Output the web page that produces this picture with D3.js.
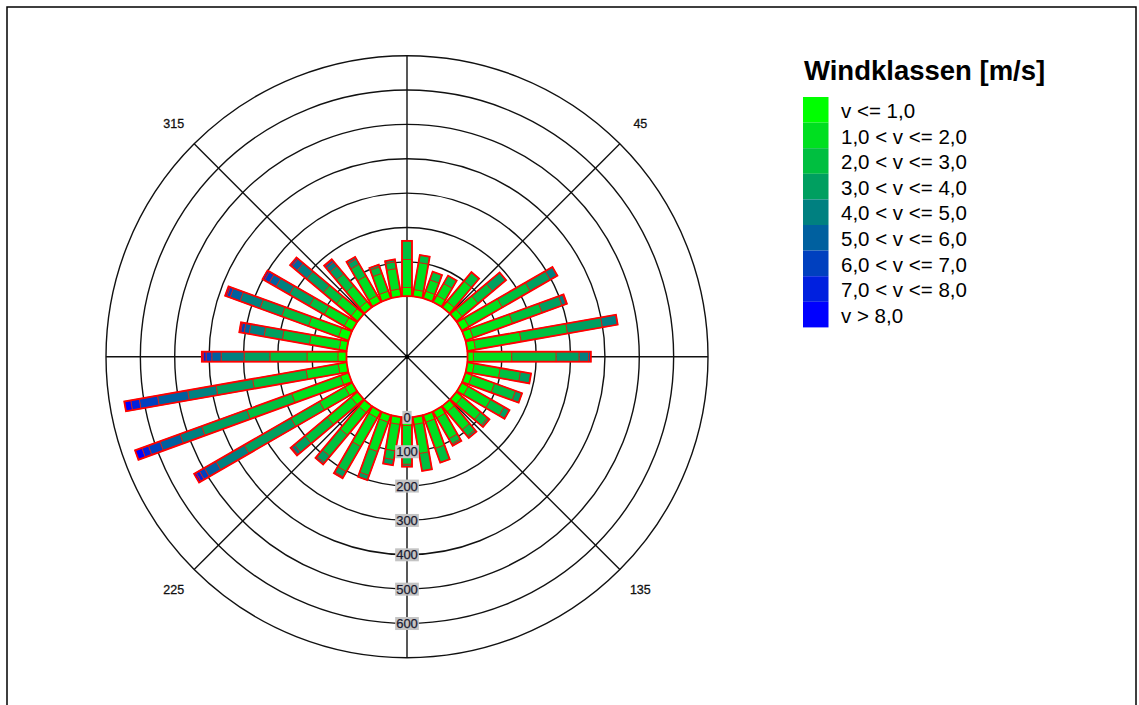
<!DOCTYPE html>
<html>
<head>
<meta charset="utf-8">
<title>Windrose</title>
<script src="https://cdn.jsdelivr.net/npm/d3@7/dist/d3.min.js"></script>
<style>
  body { margin: 0; background: #fff; }
  text { font-family: Arial, "Liberation Sans", sans-serif; }
</style>
</head>
<body>
<div id="chart"></div>
<script>
// directions in degrees, clockwise from north
const directions = d3.range(0, 360, 10);

const classLabels = ["v <= 1,0", "1,0 < v <= 2,0", "2,0 < v <= 3,0", "3,0 < v <= 4,0",
  "4,0 < v <= 5,0", "5,0 < v <= 6,0", "6,0 < v <= 7,0", "7,0 < v <= 8,0", "v > 8,0"];

// counts per wind class, one value per direction (0..350)
const c1 = [25,20,22,22,22,22,24,24,24,17,20,20,22,22,22,22,22,22,24,22,22,22,25,25,25,25,25,25,22,31,27,25,22,22,22,22];
const c2 = [82,80,35,40,77,60,112,122,135,112,77,70,75,70,68,70,81,86,81,78,91,96,85,90,85,151,95,90,88,93,67,55,60,65,55,60];
const c3 = [54,22,25,26,34,55,94,91,137,129,60,65,45,26,24,17,44,51,32,26,74,84,80,85,96,139,158,108,80,83,50,50,45,40,20,20];
const c4 = [0,0,0,0,0,51,67,62,103,67,31,20,18,7,7,6,0,0,7,16,14,18,25,40,157,140,108,75,54,67,67,63,30,17,7,7];
const c5 = [0,0,0,0,0,0,24,12,45,27,0,0,0,0,0,0,0,0,0,0,0,4,6,10,95,67,84,67,44,62,45,37,15,7,0,0];
const c6 = [0,0,0,0,0,0,0,3,0,7,0,0,0,0,0,0,0,0,0,0,0,0,0,4,39,62,89,27,15,31,23,20,7,0,0,0];
const c7 = [0,0,0,0,0,0,0,0,0,0,0,0,0,0,0,0,0,0,0,0,0,0,0,0,17,36,54,17,10,10,16,6,3,0,0,0];
const c8 = [0,0,0,0,0,0,0,0,0,0,0,0,0,0,0,0,0,0,0,0,0,0,0,0,11,20,25,8,4,5,6,0,0,0,0,0];
const c9 = [0,0,0,0,0,0,0,0,0,0,0,0,0,0,0,0,0,0,0,0,0,0,0,0,6,21,19,4,0,0,0,0,0,0,0,0];
const classes = [c1, c2, c3, c4, c5, c6, c7, c8, c9];

const ringTicks = [0, 100, 200, 300, 400, 500, 600];
const gridRings = [100, 200, 300, 400, 500, 600, 700];
const compassLabels = [45, 135, 225, 315];

const width = 1139, height = 705;
const cx = 407, cy = 356.7;

const svg = d3.select("#chart").append("svg")
    .attr("width", width)
    .attr("height", height);

// frame
svg.append("rect")
    .attr("x", 7).attr("y", 7)
    .attr("width", 1129).attr("height", 710)
    .attr("fill", "none")
    .attr("stroke", "#000")
    .attr("stroke-width", 1.5);

const r = d3.scaleLinear().domain([0, 700]).range([60.5, 301]);
const color = d3.scaleOrdinal()
    .domain(d3.range(9))
    .range(d3.range(9).map(k => d3.interpolateRgb("#00ff00", "#0000ff")(k / 8)));

const g = svg.append("g").attr("transform", `translate(${cx},${cy})`);

// grid circles
g.selectAll("circle.grid")
  .data(gridRings)
  .join("circle")
    .attr("class", "grid")
    .attr("r", d => r(d))
    .attr("fill", "none")
    .attr("stroke", "#111")
    .attr("stroke-width", 1.4);

// spokes every 45 degrees
g.selectAll("line.spoke")
  .data(d3.range(0, 360, 45))
  .join("line")
    .attr("class", "spoke")
    .attr("x1", 0).attr("y1", 0)
    .attr("x2", d => r(700) * Math.sin(d * Math.PI / 180))
    .attr("y2", d => -r(700) * Math.cos(d * Math.PI / 180))
    .attr("stroke", "#111")
    .attr("stroke-width", 1.4);

g.append("circle").attr("r", 2.2).attr("fill", "#000");

// stacked bars
const barW = 10;
const stacked = directions.map((dir, i) => {
  let acc = 0;
  const segs = classes.map((arr, k) => {
    const s = { k: k, v0: acc, v1: acc + arr[i] };
    acc += arr[i];
    return s;
  }).filter(s => s.v1 > s.v0);
  return { dir: dir, total: acc, segs: segs };
});

const bars = g.selectAll("g.bar")
  .data(stacked)
  .join("g")
    .attr("class", "bar")
    .attr("transform", d => `rotate(${d.dir})`);

bars.selectAll("rect.seg")
  .data(d => d.segs)
  .join("rect")
    .attr("class", "seg")
    .attr("x", -barW / 2)
    .attr("width", barW)
    .attr("y", d => -r(d.v1))
    .attr("height", d => r(d.v1) - r(d.v0))
    .attr("fill", d => color(d.k))
    .attr("stroke", "#d02010")
    .attr("stroke-width", 0.8);

bars.append("rect")
    .attr("x", -barW / 2)
    .attr("width", barW)
    .attr("y", d => -r(d.total))
    .attr("height", d => r(d.total) - r(0))
    .attr("fill", "none")
    .attr("stroke", "#ff0000")
    .attr("stroke-width", 1.8);

// radial tick labels along the south spoke
const tl = g.selectAll("g.tick")
  .data(ringTicks)
  .join("g")
    .attr("class", "tick")
    .attr("transform", d => `translate(0,${r(d)})`);

tl.append("text")
    .attr("text-anchor", "middle")
    .attr("dy", "0.36em")
    .attr("font-size", 13)
    .attr("fill", "#1a1a30")
    .attr("stroke", "#1a1a30")
    .attr("stroke-width", 0.25)
    .text(d => d);

tl.each(function() {
  const gg = d3.select(this);
  const bb = gg.select("text").node().getBBox();
  gg.insert("rect", "text")
    .attr("x", bb.x - 1).attr("y", bb.y + 1)
    .attr("width", bb.width + 2).attr("height", bb.height - 2)
    .attr("fill", "#c4c4c4");
});

// compass labels on the diagonals
g.selectAll("text.compass")
  .data(compassLabels)
  .join("text")
    .attr("class", "compass")
    .attr("x", d => 330 * Math.sin(d * Math.PI / 180))
    .attr("y", d => -330 * Math.cos(d * Math.PI / 180))
    .attr("text-anchor", "middle")
    .attr("dy", "0.35em")
    .attr("font-size", 12.5)
    .attr("fill", "#111")
    .attr("stroke", "#111")
    .attr("stroke-width", 0.3)
    .text(d => d);

// legend
const legend = svg.append("g").attr("transform", "translate(803,97)");

legend.append("text")
    .attr("x", 1).attr("y", -17)
    .attr("font-size", 27.5)
    .attr("font-weight", "bold")
    .attr("fill", "#000")
    .text("Windklassen [m/s]");

const rowH = 25.6;
legend.selectAll("rect.sw")
  .data(classLabels)
  .join("rect")
    .attr("class", "sw")
    .attr("x", 0)
    .attr("y", (d, i) => i * rowH)
    .attr("width", 25.5)
    .attr("height", rowH)
    .attr("fill", (d, i) => color(i));

legend.selectAll("text.lab")
  .data(classLabels)
  .join("text")
    .attr("class", "lab")
    .attr("x", 38)
    .attr("y", (d, i) => i * rowH + 21)
    .attr("font-size", 20.5)
    .attr("fill", "#000")
    .text(d => d);
</script>
</body>
</html>
